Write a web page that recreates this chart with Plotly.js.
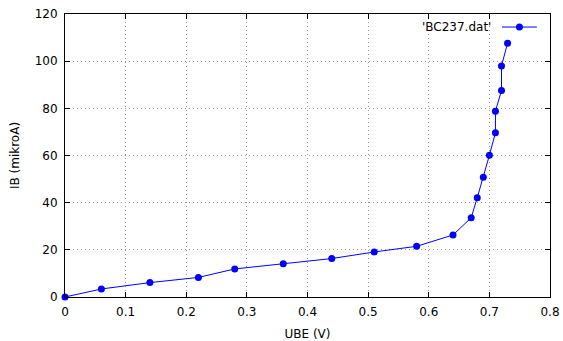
<!DOCTYPE html>
<html>
<head>
<meta charset="utf-8">
<script src="https://cdn.plot.ly/plotly-3.0.1.min.js"></script>
<style>html,body{margin:0;padding:0;background:#fff;}#chart{width:563px;height:341px;}</style>
</head>
<body>
<div id="chart"></div>
<script>
const ube = [0, 0.06, 0.14, 0.22, 0.28, 0.36, 0.44, 0.51, 0.58, 0.64, 0.67, 0.68, 0.69, 0.70, 0.71, 0.71, 0.72, 0.72, 0.73];
const ib  = [0, 3.4, 6.1, 8.3, 11.9, 14.1, 16.3, 19.1, 21.5, 26.3, 33.6, 42.1, 50.8, 60.1, 69.6, 78.8, 87.6, 98.0, 107.6];
const seriesName = "'BC237.dat'";
const xTicks = [0, 0.1, 0.2, 0.3, 0.4, 0.5, 0.6, 0.7, 0.8];
const xTickText = ['0', '0.1', '0.2', '0.3', '0.4', '0.5', '0.6', '0.7', '0.8'];
const yTicks = [0, 20, 40, 60, 80, 100, 120];

const font = {family: 'DejaVu Sans, sans-serif', size: 12, color: '#000'};
const axisCommon = {
  showline: true, linecolor: '#000', linewidth: 1, mirror: 'allticks',
  ticks: 'inside', ticklen: 5, tickcolor: '#000', tickwidth: 1,
  showgrid: true, gridcolor: '#9a9a9a', griddash: '1px,3px', gridwidth: 1,
  zeroline: false, tickfont: font
};

const trace = {
  x: ube, y: ib, type: 'scatter', mode: 'lines+markers', name: seriesName,
  line: {color: '#0000ff', width: 1},
  marker: {color: '#0000ff', size: 7, symbol: 'circle'},
  showlegend: false, cliponaxis: false
};

const layout = {
  width: 563, height: 341,
  margin: {l: 65, r: 13, t: 14, b: 44},
  paper_bgcolor: '#fff', plot_bgcolor: '#fff',
  font: font,
  xaxis: Object.assign({}, axisCommon, {
    range: [0, 0.8], tickvals: xTicks, ticktext: xTickText,
    ticklabelstandoff: 4,
    title: {text: 'UBE (V)', font: font, standoff: 14}
  }),
  yaxis: Object.assign({}, axisCommon, {
    range: [0, 120], tickvals: yTicks,
    ticklabelstandoff: 4,
    title: {text: 'IB (mikroA)', font: font, standoff: 12}
  }),
  annotations: [{
    xref: 'paper', yref: 'paper', x: 0.882, y: 0.954,
    xanchor: 'right', yanchor: 'middle', showarrow: false,
    text: seriesName, font: font
  }],
  shapes: [
    {type: 'line', xref: 'paper', yref: 'paper', x0: 0.901, x1: 0.973, y0: 0.954, y1: 0.954,
     line: {color: '#0000ff', width: 1}},
    {type: 'circle', xref: 'paper', yref: 'paper', xsizemode: 'pixel', ysizemode: 'pixel',
     xanchor: 0.937, yanchor: 0.954, x0: -3.5, x1: 3.5, y0: -3.5, y1: 3.5,
     fillcolor: '#0000ff', line: {width: 0}}
  ]
};

Plotly.newPlot('chart', [trace], layout, {staticPlot: true, displayModeBar: false});
</script>
</body>
</html>
